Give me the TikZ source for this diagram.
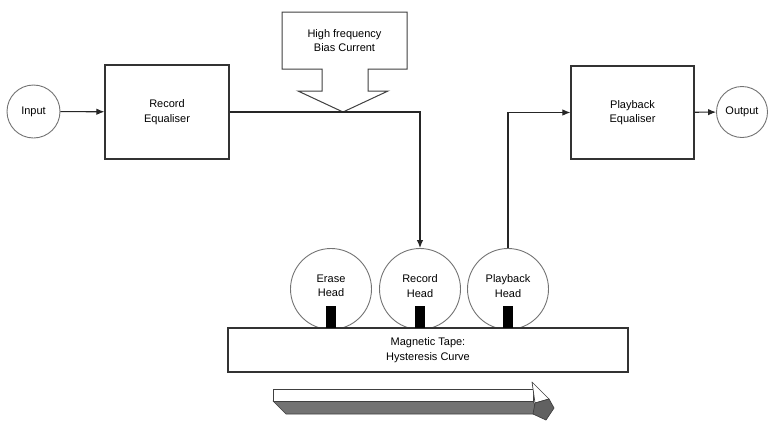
\documentclass[tikz,border=0pt]{standalone}
\usepackage{fontspec}
\setmainfont{Liberation Sans}
\usetikzlibrary{arrows.meta}
\begin{document}
\begin{tikzpicture}[x=1pt,y=-1pt,
  font=\fontsize{11}{14.5}\selectfont,
  every node/.style={align=center, inner sep=0pt},
  endcircle/.style={circle, draw=black!55, line width=0.9pt, fill=white},
  eqbox/.style={rectangle, draw=black!80, line width=1.2pt, fill=white},
  headcircle/.style={circle, draw=black!55, line width=0.9pt, minimum size=81pt},
  gap/.style={fill=black},
  conn/.style={draw=black!85, line width=1.1pt, -{Latex[length=8pt,width=6.5pt]}},
  plainline/.style={draw=black!75, line width=1pt}]
\useasboundingbox (0,0) rectangle (779,426);

% end circles and equalisers
\node[endcircle, minimum size=53pt] (in) at (33.5,111.5) {Input};
\node[eqbox, minimum width=124pt, minimum height=94pt] (receq) at (167,112) {Record\\Equaliser};
\node[eqbox, minimum width=123pt, minimum height=93pt] (pbeq) at (632.5,112.5) {Playback\\Equaliser};
\node[endcircle, minimum size=51pt] (out) at (742,112) {Output};

% bias current block arrow
\draw[plainline, fill=white] (282,12) -- (407,12) -- (407,69) -- (368,69) -- (368,91) -- (388,91)
  -- (343,112) -- (298,91) -- (322,91) -- (322,69) -- (282,69) -- cycle;
\node (bias) at (344.5,40.5) {High frequency\\Bias Current};

% heads
\node[headcircle] (erase) at (331,289) {};
\node[headcircle] (rechead) at (420,289) {};
\node[headcircle] (pbhead) at (508,289) {};
\node at (331,286) {Erase\\Head};
\node at (420,286) {Record\\Head};
\node at (508,286) {Playback\\Head};

% tape
\node[rectangle, draw=black!80, line width=1.2pt, fill=white, minimum width=400pt, minimum height=44pt] (tape) at (428,350) {Magnetic Tape:\\Hysteresis Curve};

% head gaps
\fill[gap] (326,306) rectangle (336,328);
\fill[gap] (415,306) rectangle (425,328);
\fill[gap] (503,306) rectangle (513,328);

% connectors
\draw[conn] (in) -- (receq);
\draw[conn] (receq.east) -| (rechead.north);
\draw[conn] (pbhead.north) |- (pbeq.west);
\draw[conn] (pbeq) -- (out);

% 3D direction arrow
\begin{scope}[draw=black!75, line width=0.7pt, line join=round]
\draw[fill=black!55] (273,401) -- (533,401) -- (539,414) -- (286,414) -- cycle;
\draw[fill=white] (273,389) -- (533,389) -- (533,401) -- (273,401) -- cycle;
\draw[fill=white] (532,382) -- (549,399) -- (535,403) -- (533,389) -- cycle;
\draw[fill=black!62] (535,403) -- (549,399) -- (554,408) -- (546,420) -- (533,414) -- cycle;
\end{scope}
\end{tikzpicture}
\end{document}
